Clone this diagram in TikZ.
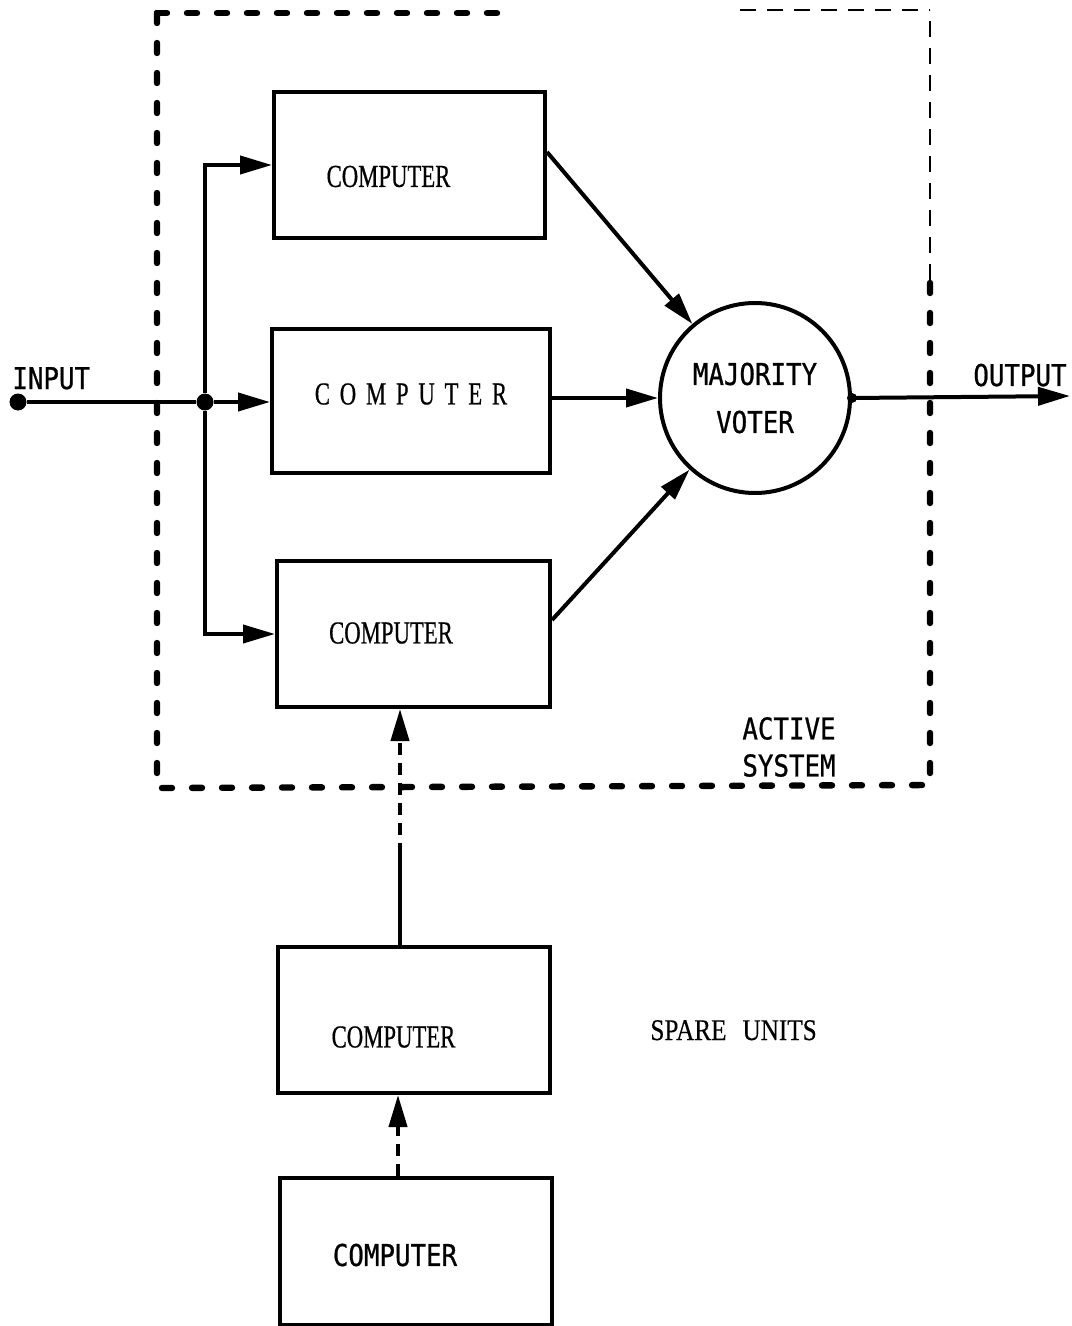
\documentclass[tikz,border=0pt]{standalone}
\usepackage{fontspec}
\setmainfont{Liberation Serif}
% stroke lettering and condensed typewriter-like serif
\newfontfamily\lettering[FakeStretch=0.86,FakeBold=0.8]{DejaVu Sans Mono}
\newfontfamily\narrowserif[FakeStretch=0.71,FakeBold=0.5]{Liberation Serif}
\newfontfamily\spareserif[FakeStretch=0.84,FakeBold=0.3]{Liberation Serif}
\usetikzlibrary{arrows.meta,calc}

\begin{document}
\begin{tikzpicture}[x=0.5pt,y=-0.5pt,
  wire/.style={line width=2pt},
  arr/.style={wire,-{Triangle[length=16pt,width=9pt]}},
  box/.style={draw, rectangle, line width=2pt, inner sep=0pt},
  dot/.style={circle, fill, inner sep=0pt, minimum size=8.5pt},
  smalldot/.style={circle, fill, inner sep=0pt, minimum size=5pt},
  serifword/.style={font=\narrowserif\fontsize{16}{19}\selectfont, inner sep=0pt},
  sansword/.style={font=\lettering\fontsize{15}{18}\selectfont, inner sep=0pt},
  thickdash/.style={line width=3.2pt, line cap=round, dash pattern=on 5pt off 10pt},
  thindash/.style={line width=0.9pt, dash pattern=on 8pt off 5.5pt},
  arrowdash/.style={dash pattern=on 6pt off 4pt},
]
\useasboundingbox (0,0) rectangle (1071,1326);

% active system: three computers and the voter
\node[box, minimum width=135.5pt, minimum height=73pt,
      label={[serifword, xshift=-10.5pt, yshift=-5.75pt]center:COMPUTER}]
      (c1) at (409.5,165) {};
\node[box, minimum width=139pt, minimum height=72pt,
      label={[serifword, yshift=3.5pt]center:C\kern4.9pt O\kern4.9pt M\kern4.9pt P\kern4.9pt U\kern4.9pt T\kern4.9pt E\kern4.9pt R}]
      (c2) at (411,401) {};
\node[box, minimum width=136.5pt, minimum height=73pt,
      label={[serifword, xshift=-11.25pt, yshift=0.5pt]center:COMPUTER}]
      (c3) at (413.5,634) {};
\node[circle, draw, line width=2pt, minimum size=95pt, inner sep=0pt, align=center,
      font=\lettering\fontsize{15}{24}\selectfont]
      (voter) at (755,398) {MAJORITY\\VOTER};

% spare units
\node[box, minimum width=136pt, minimum height=73pt,
      label={[serifword, xshift=-10.25pt, yshift=-8.5pt]center:COMPUTER}]
      (c4) at (414,1020) {};
\node[box, minimum width=136pt, minimum height=73.5pt,
      label={[sansword, xshift=-10.5pt, yshift=-1.75pt]center:COMPUTER}]
      (c5) at (416,1251.5) {};

% input, fan-out and output
\node[dot] (in) at (18,402) {};
\node[dot] (j) at (205,402) {};
\coordinate (out) at (1070,396);
\node[sansword, anchor=base west] (inlbl) at (12,389) {INPUT};
\node[sansword, anchor=base west] (outlbl) at (973,386) {OUTPUT};

\draw[wire] (in) -- (j);
\draw[arr] (j) -- (j -| c2.west);
\draw[arr] (j) |- (c1.west);
\draw[arr] (j) |- (c3.west);

\draw[arr] ([yshift=6.5pt]c1.east) -- (voter);
\draw[arr] ([yshift=1.5pt]c2.east) -- (voter.west);
\draw[arr] ([yshift=7pt]c3.east) -- (voter);
\draw[arr] (voter.east) -- (out);
\node[smalldot] at (voter.east) {};

% spare units switched in
\coordinate (brk) at (400,855);
\draw[wire] ($(c4.north)+(-14,0)$) -- (brk);
\draw[arr, arrowdash] (brk) -- (brk |- c3.south);
\draw[arr, arrowdash] ($(c5.north)+(-18,0)$) -- ($(c4.south)+(-16,0)$);

% boundary of the active system
\draw[thickdash] (157,13) -- (505,13);
\draw[thindash] (740,10) -- (930,10);
\draw[thickdash] (157,13) -- (157,788) -- (930,785) -- (930,280);
\draw[thindash] (930,280) -- (930,10);

\node[sansword, align=left, font=\lettering\fontsize{15}{18.5}\selectfont,
      anchor=center] (actlbl) at (789,747) {ACTIVE\\SYSTEM};
\node[font=\spareserif\fontsize{15}{18}\selectfont, inner sep=0pt, anchor=base west]
      (sparelbl) at (650,1040) {SPARE\kern8pt UNITS};
\end{tikzpicture}
\end{document}
